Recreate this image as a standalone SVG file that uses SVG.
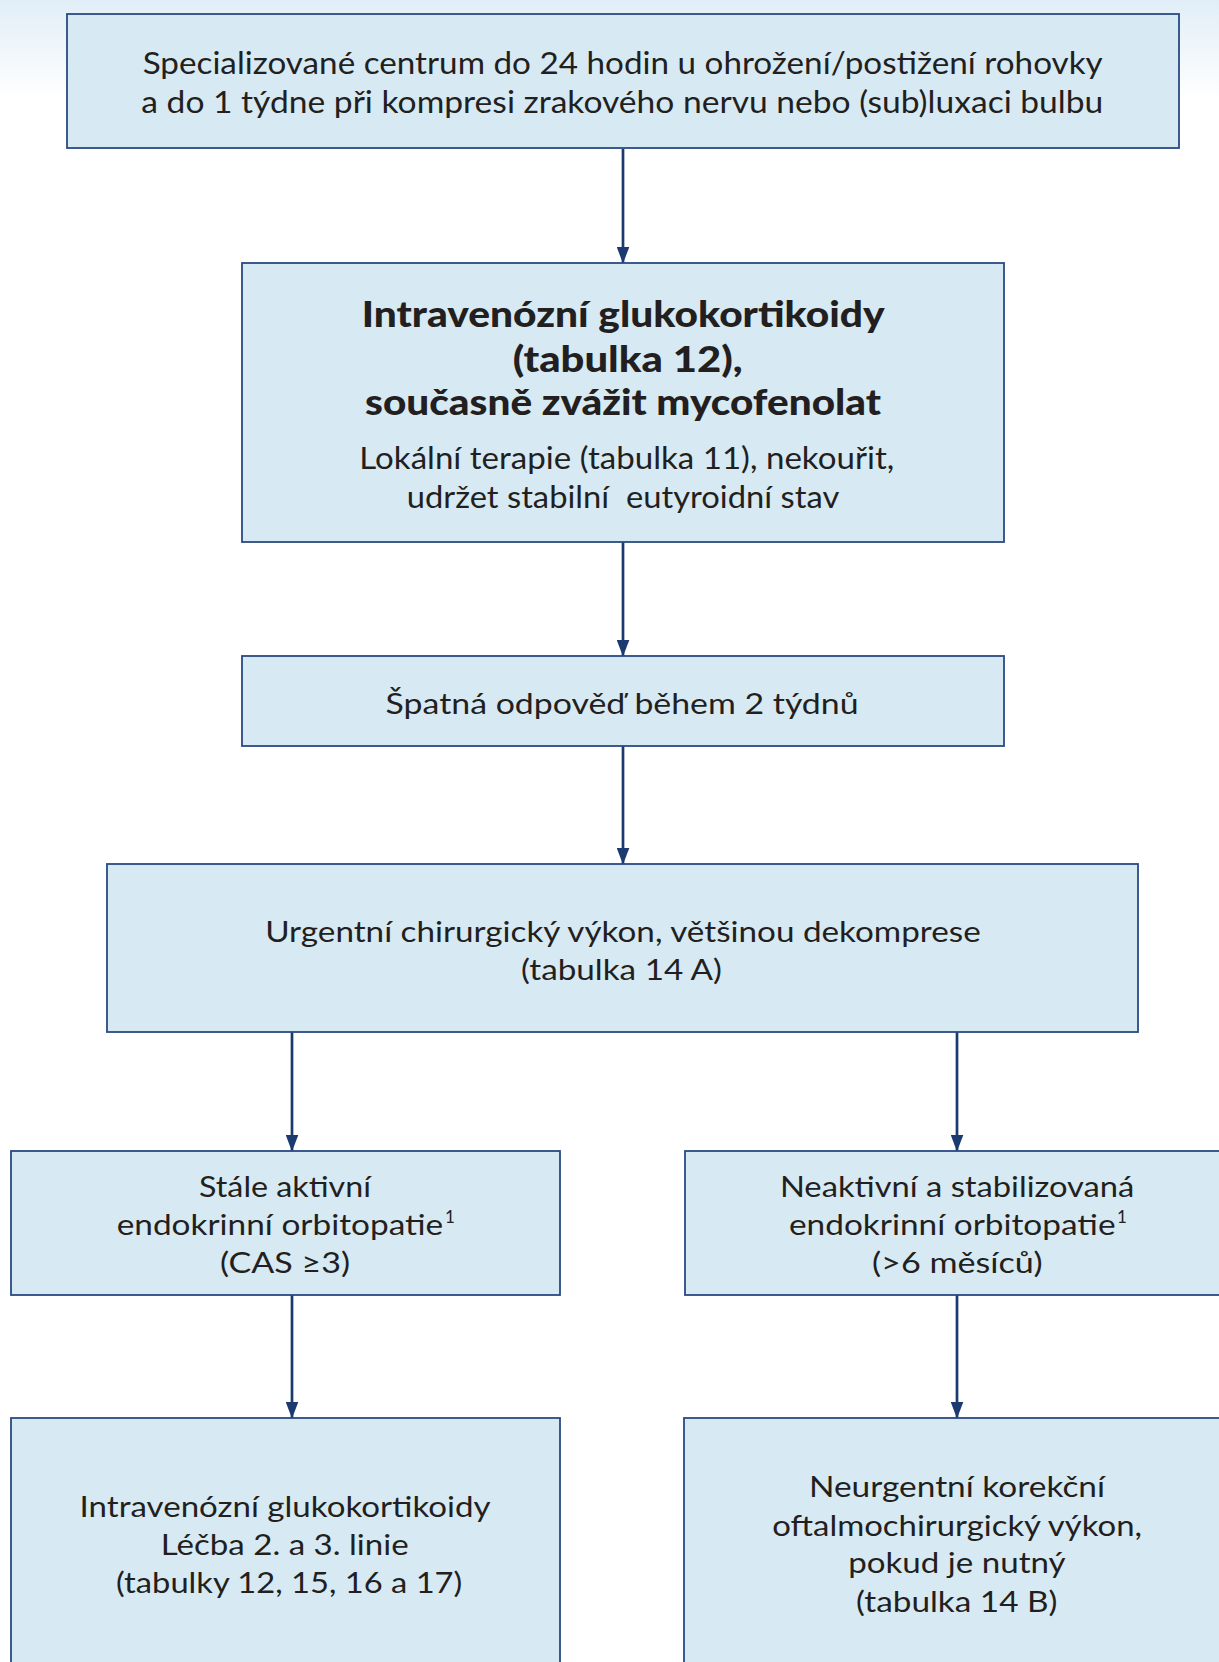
<svg xmlns="http://www.w3.org/2000/svg" width="1219" height="1662" viewBox="0 0 1219 1662">
<defs>
<linearGradient id="bg" x1="0" y1="0" x2="0" y2="1">
<stop offset="0" stop-color="#e1eef7"/>
<stop offset="1" stop-color="#ffffff"/>
</linearGradient>
<marker id="ah" viewBox="0 0 17 13" refX="16.5" refY="6.5" markerWidth="17" markerHeight="13" markerUnits="userSpaceOnUse" orient="auto">
<path d="M0,0 L17,6.5 L0,13 Z" fill="#1b3a70"/>
</marker>
</defs>
<style>
.box{fill:#d7eaf4;stroke:#2a4a82;stroke-width:1.8}
.t{font-family:Lato,"Noto Sans","DejaVu Sans",sans-serif;fill:#231f20;font-size:29px}
.b{font-weight:900;font-size:36px}
.sup{font-size:17px}
.c{stroke:#1b3a70;stroke-width:2.7;fill:none;marker-end:url(#ah)}
</style>
<rect x="0" y="0" width="1219" height="100" fill="url(#bg)"/>
<rect x="0" y="100" width="1219" height="1562" fill="#ffffff"/>

<g id="connectors">
<line class="c" x1="623" y1="149" x2="623" y2="263"/>
<line class="c" x1="623" y1="542" x2="623" y2="656"/>
<line class="c" x1="623" y1="746" x2="623" y2="864"/>
<line class="c" x1="292" y1="1032" x2="292" y2="1151"/>
<line class="c" x1="957" y1="1032" x2="957" y2="1151"/>
<line class="c" x1="292" y1="1295" x2="292" y2="1418"/>
<line class="c" x1="957" y1="1295" x2="957" y2="1418"/>
</g>

<g id="n1">
<rect class="box" x="67" y="14" width="1112" height="134"/>
<text class="t" x="142.7" y="74" textLength="960" lengthAdjust="spacingAndGlyphs" style="font-size:30px">Specializované centrum do 24 hodin u ohrožení/postižení rohovky</text>
<text class="t" x="141.3" y="113" textLength="962" lengthAdjust="spacingAndGlyphs" style="font-size:30px">a do 1 týdne při kompresi zrakového nervu nebo (sub)luxaci bulbu</text>
</g>

<g id="n2">
<rect class="box" x="242" y="263" width="762" height="279"/>
<text class="t b" x="361.7" y="327" textLength="523" lengthAdjust="spacingAndGlyphs">Intravenózní glukokortikoidy</text>
<text class="t b" x="512.7" y="372" textLength="230" lengthAdjust="spacingAndGlyphs">(tabulka 12),</text>
<text class="t b" x="365" y="415" textLength="516" lengthAdjust="spacingAndGlyphs">současně zvážit mycofenolat</text>
<text class="t" x="359.3" y="469" textLength="535" lengthAdjust="spacingAndGlyphs" style="font-size:30px">Lokální terapie (tabulka 11), nekouřit,</text>
<text class="t" x="406.7" y="508" textLength="432.6" lengthAdjust="spacingAndGlyphs" style="font-size:30px;white-space:pre">udržet stabilní  eutyroidní stav</text>
</g>

<g id="n3">
<rect class="box" x="242" y="656" width="762" height="90"/>
<text class="t" x="385.6" y="714" textLength="473" lengthAdjust="spacingAndGlyphs">Špatná odpověď během 2 týdnů</text>
</g>

<g id="n4">
<rect class="box" x="107" y="864" width="1031" height="168"/>
<text class="t" x="265.2" y="941.5" textLength="715.5" lengthAdjust="spacingAndGlyphs">Urgentní chirurgický výkon, většinou dekomprese</text>
<text class="t" x="521" y="979.5" textLength="201" lengthAdjust="spacingAndGlyphs">(tabulka 14 A)</text>
</g>

<g id="n5">
<rect class="box" x="11" y="1151" width="549" height="144"/>
<text class="t" x="199" y="1197.3" textLength="172" lengthAdjust="spacingAndGlyphs">Stále aktivní</text>
<text class="t" x="116.7" y="1235" textLength="326.5" lengthAdjust="spacingAndGlyphs">endokrinní orbitopatie</text>
<text class="t sup" x="445" y="1223">1</text>
<text class="t" x="220" y="1273" textLength="130" lengthAdjust="spacingAndGlyphs">(CAS ≥3)</text>
</g>

<g id="n6">
<rect class="box" x="685" y="1151" width="560" height="144"/>
<text class="t" x="779.9" y="1196.7" textLength="354.5" lengthAdjust="spacingAndGlyphs">Neaktivní a stabilizovaná</text>
<text class="t" x="789" y="1235" textLength="326.5" lengthAdjust="spacingAndGlyphs">endokrinní orbitopatie</text>
<text class="t sup" x="1117" y="1223">1</text>
<text class="t" x="872" y="1273.3" textLength="170.6" lengthAdjust="spacingAndGlyphs">(&gt;6 měsíců)</text>
</g>

<g id="n7">
<rect class="box" x="11" y="1418" width="549" height="270"/>
<text class="t" x="79.6" y="1517.3" textLength="411" lengthAdjust="spacingAndGlyphs">Intravenózní glukokortikoidy</text>
<text class="t" x="160.7" y="1555" textLength="248" lengthAdjust="spacingAndGlyphs">Léčba 2. a 3. linie</text>
<text class="t" x="116" y="1592.7" textLength="346.3" lengthAdjust="spacingAndGlyphs">(tabulky 12, 15, 16 a 17)</text>
</g>

<g id="n8">
<rect class="box" x="684" y="1418" width="560" height="270"/>
<text class="t" x="809" y="1497.3" textLength="296" lengthAdjust="spacingAndGlyphs">Neurgentní korekční</text>
<text class="t" x="772.3" y="1536" textLength="369.7" lengthAdjust="spacingAndGlyphs">oftalmochirurgický výkon,</text>
<text class="t" x="848.2" y="1573.3" textLength="217.5" lengthAdjust="spacingAndGlyphs">pokud je nutný</text>
<text class="t" x="856" y="1612.3" textLength="201.5" lengthAdjust="spacingAndGlyphs">(tabulka 14 B)</text>
</g>
</svg>
